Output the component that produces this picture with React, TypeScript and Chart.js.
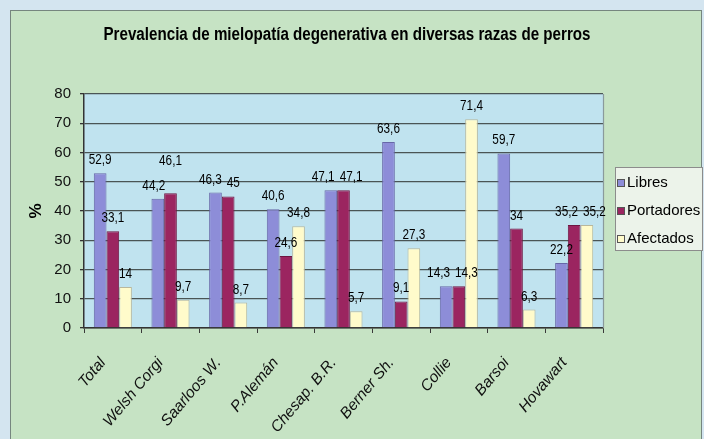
import React, { useEffect, useRef } from 'react';
import { Chart, registerables } from 'chart.js';

Chart.register(...registerables);

const titleText = 'Prevalencia de mielopatía degenerativa en diversas razas de perros';
const yAxisTitle = '%';
const categories = ['Total', 'Welsh Corgi', 'Saarloos W.', 'P.Alemán', 'Chesap. B.R.', 'Berner Sh.', 'Collie', 'Barsoi', 'Hovawart'];
const seriesNames = ['Libres', 'Portadores', 'Afectados'];
const libres = [52.9, 44.2, 46.3, 40.6, 47.1, 63.6, 14.3, 59.7, 22.2];
const portadores = [33.1, 46.1, 45, 24.6, 47.1, 9.1, 14.3, 34, 35.2];
const afectados = [14, 9.7, 8.7, 34.8, 5.7, 27.3, 71.4, 6.3, 35.2];
const yMin = 0;
const yMax = 80;
const yStep = 10;

const seriesColors = ['#8d8dd8', '#9b2560', '#fffbcb'];
const seriesBorders = ['#6767a8', '#6e1642', '#b9b89c'];

const SANS = '"Liberation Sans", Arial, sans-serif';

const fmt = (v: number) => String(v).replace('.', ',');

function scaledText(ctx: CanvasRenderingContext2D, txt: string, x: number, y: number, sx: number) {
  ctx.save();
  ctx.translate(x, y);
  ctx.scale(sx, 1);
  ctx.fillText(txt, 0, 0);
  ctx.restore();
}

const decorPlugin = {
  id: 'decor',
  beforeDraw(chart: any) {
    const { ctx, chartArea: a } = chart;
    ctx.save();
    ctx.fillStyle = '#d4e5f0';
    ctx.fillRect(0, 0, chart.width, chart.height);
    ctx.fillStyle = '#c6e3c4';
    ctx.fillRect(10, 10, 692, chart.height);
    ctx.strokeStyle = '#76867f';
    ctx.lineWidth = 1;
    ctx.strokeRect(10.5, 10.5, 691, chart.height + 5);
    ctx.fillStyle = '#c0e3ef';
    ctx.fillRect(a.left, a.top, a.right - a.left, a.bottom - a.top);
    ctx.restore();
  },
  afterDraw(chart: any) {
    const { ctx, chartArea: a } = chart;
    ctx.save();
    // right border of plot
    ctx.strokeStyle = '#8a9a9c';
    ctx.lineWidth = 1.2;
    ctx.beginPath();
    ctx.moveTo(a.right + 0.5, a.top);
    ctx.lineTo(a.right + 0.5, a.bottom);
    ctx.stroke();

    // title (condensed)
    ctx.fillStyle = '#000';
    ctx.font = 'bold 18px ' + SANS;
    ctx.textAlign = 'center';
    ctx.textBaseline = 'middle';
    const tw = ctx.measureText(titleText).width;
    scaledText(ctx, titleText, 347, 35, Math.min(1, 487 / tw));

    // data labels (condensed)
    const lsx = 0.84;
    ctx.font = '14px ' + SANS;
    ctx.textAlign = 'center';
    ctx.textBaseline = 'alphabetic';
    const n = chart.data.labels.length;
    for (let i = 0; i < n; i++) {
      const items: any[] = [];
      chart.data.datasets.forEach((ds: any, d: number) => {
        const el = chart.getDatasetMeta(d).data[i];
        const txt = fmt(ds.data[i]);
        items.push({ x: el.x, y: el.y - 9, w: ctx.measureText(txt).width * lsx, txt });
      });
      for (let j = 1; j < items.length; j++) {
        const p = items[j - 1];
        const c = items[j];
        const need = (p.w + c.w) / 2 + 5;
        const dist = c.x - p.x;
        if (Math.abs(p.y - c.y) < 13 && dist < need) {
          if (Math.abs(p.y - c.y) < 4.5) {
            const s = (need - dist) / 2;
            p.x -= s;
            c.x += s;
          } else if (c.y < p.y) {
            c.y = p.y - 25;
            p.x -= 4;
          } else {
            p.y = c.y - 25;
          }
        }
      }
      items.forEach((it) => scaledText(ctx, it.txt, it.x, it.y, lsx));
    }

    // legend
    const lx = 615, ly = 167, lw = 88, lh = 84;
    ctx.fillStyle = '#ecf3ea';
    ctx.fillRect(lx, ly, lw, lh);
    ctx.strokeStyle = '#8c8c8c';
    ctx.lineWidth = 1;
    ctx.strokeRect(lx + 0.5, ly + 0.5, lw - 1, lh - 1);
    ctx.font = '15px ' + SANS;
    ctx.textAlign = 'left';
    ctx.textBaseline = 'middle';
    chart.data.datasets.forEach((ds: any, d: number) => {
      const cy = ly + 16 + d * 28;
      ctx.fillStyle = ds.backgroundColor;
      ctx.fillRect(lx + 2, cy - 4, 8, 8);
      ctx.strokeStyle = '#555';
      ctx.strokeRect(lx + 2.5, cy - 3.5, 7, 7);
      ctx.fillStyle = '#000';
      ctx.fillText(ds.label, lx + 12, cy);
    });
    ctx.restore();
  },
};

export default function App() {
  const ref = useRef<HTMLCanvasElement>(null);
  useEffect(() => {
    document.body.style.margin = '0';
    const canvas = ref.current;
    if (!canvas) return;
    const seriesData = [libres, portadores, afectados];
    const chart = new Chart(canvas, {
      type: 'bar',
      data: {
        labels: categories,
        datasets: seriesNames.map((name, k) => ({
          label: name,
          data: seriesData[k],
          backgroundColor: seriesColors[k],
          borderColor: seriesBorders[k],
          borderWidth: 1,
          categoryPercentage: 0.66,
          barPercentage: 1.0,
        })),
      },
      options: {
        responsive: false,
        animation: false,
        events: [],
        layout: { padding: { top: 94, right: 101, left: 0, bottom: 0 } },
        plugins: {
          legend: { display: false },
          title: { display: false },
          tooltip: { enabled: false },
        },
        scales: {
          x: {
            afterFit: (s: any) => { s.height = 111; },
            grid: { display: true, drawOnChartArea: false, drawTicks: true, tickLength: 5, offset: true, color: '#3a3a3a', lineWidth: 1 },
            border: { display: true, color: '#333', width: 1.5 },
            ticks: {
              autoSkip: false,
              maxRotation: 50,
              minRotation: 50,
              labelOffset: -10,
              padding: 21,
              color: '#111',
              font: { family: SANS, size: 15.5, style: 'italic' },
            },
          },
          y: {
            min: yMin,
            max: yMax,
            afterFit: (s: any) => { s.width = 84; },
            ticks: { stepSize: yStep, padding: 9, color: '#111', font: { family: SANS, size: 15 } },
            grid: { color: '#4a5555', lineWidth: 1.3, drawTicks: true, tickLength: 4, tickColor: '#333' },
            border: { display: true, color: '#333', width: 1.5 },
            title: { display: true, text: yAxisTitle, color: '#000', font: { family: SANS, size: 17, weight: 'bold' }, padding: { top: 26, bottom: 0 } },
          },
        },
      },
      plugins: [decorPlugin],
    } as any);
    return () => chart.destroy();
  }, []);
  return (
    <div style={{ position: 'fixed', left: 0, top: 0, width: 704, height: 439 }}>
      <canvas ref={ref} width={704} height={439} />
    </div>
  );
}
